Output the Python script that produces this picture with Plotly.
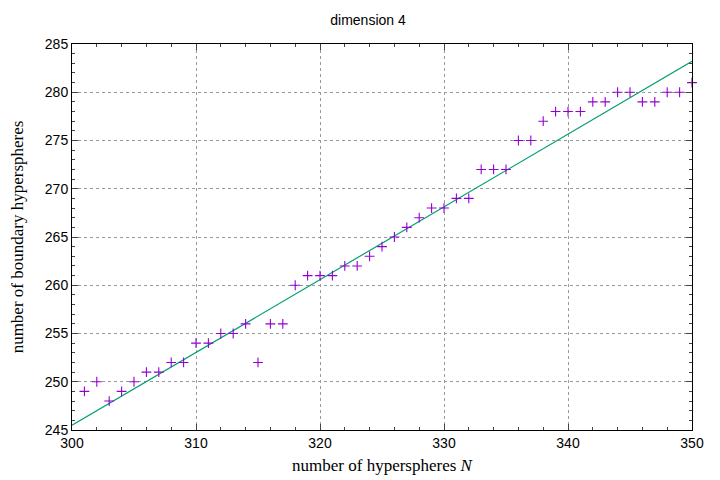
import plotly.graph_objects as go

N = list(range(301, 351))
boundary = [249,250,248,249,250,251,251,252,252,254,254,255,255,256,252,256,256,260,261,261,
            261,262,262,263,264,265,266,267,268,268,269,269,272,272,272,275,275,277,278,278,
            278,279,279,280,280,279,279,280,280,281]
fit_x = [300, 350]
fit_y = [245.5, 283.2]

fig = go.Figure()
fig.add_trace(go.Scatter(x=fit_x, y=fit_y, mode="lines", line=dict(color="#009e73", width=1.2), showlegend=False, cliponaxis=True))
fig.add_trace(go.Scatter(x=N, y=boundary, mode="markers", showlegend=False, cliponaxis=False,
                         marker=dict(symbol="cross-thin", size=7, line=dict(color="#9400d3", width=1.1))))
ax = dict(showline=True, linecolor="black", linewidth=1, mirror="ticks", ticks="inside", ticklen=6,
          showgrid=True, gridcolor="#999999", griddash="dot", gridwidth=1, zeroline=False, automargin=False,
          tickfont=dict(family="Liberation Sans, Arial", size=14, color="black"), minor=dict(ticks="inside", ticklen=3))
fig.update_xaxes(**ax, range=[300, 350], dtick=10, minor_dtick=2,
                 title=dict(text="number of hyperspheres <i>N</i>", font=dict(family="Liberation Serif, Times New Roman", size=17, color="black"), standoff=9))
fig.update_yaxes(**ax, range=[245, 285], dtick=5, minor_dtick=1,
                 title=dict(text="number of boundary hyperspheres", font=dict(family="Liberation Serif, Times New Roman", size=17, color="black"), standoff=26))
fig.update_layout(width=720, height=480, plot_bgcolor="white", paper_bgcolor="white",
                  margin=dict(l=64, r=36, t=36, b=58),
                  title=dict(text="dimension 4", x=0.5, xanchor="center", y=0.985, font=dict(family="Liberation Sans, Arial", size=14, color="black")))
fig.write_html("out.html")
